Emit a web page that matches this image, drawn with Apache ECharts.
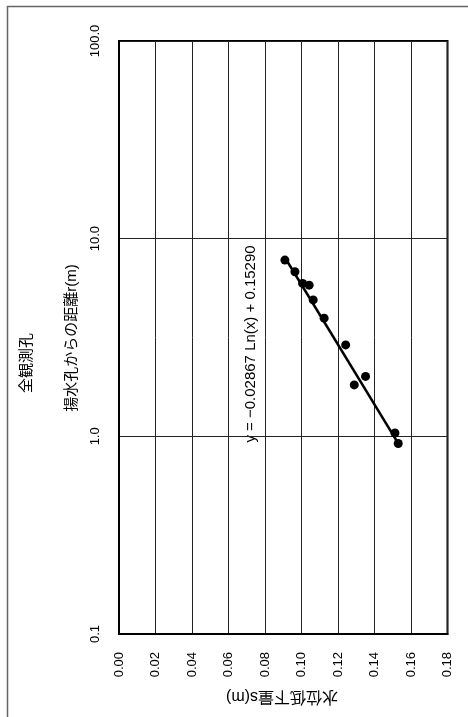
<!DOCTYPE html>
<html>
<head>
<meta charset="utf-8">
<script src="https://cdn.jsdelivr.net/npm/echarts@6/dist/echarts.min.js"></script>
<style>
html,body{margin:0;padding:0;background:#fff;}
#chart{width:468px;height:717px;}
</style>
</head>
<body>
<div id="chart"></div>
<script>
// Observed data: drawdown s (m) and distance r (m)
var drawdownS = [0.0909, 0.0964, 0.1006, 0.1042, 0.1064, 0.1124, 0.1242, 0.1289, 0.1351, 0.1512, 0.1530];
var distanceR = [7.79, 6.80, 5.94, 5.82, 4.90, 3.96, 2.90, 1.82, 2.01, 1.04, 0.92];
// Trend line endpoints
var trendS = [0.0915, 0.1524];
var trendR = [7.87, 0.94];
// Axis tick labels
var sTicks = ['0.00','0.02','0.04','0.06','0.08','0.10','0.12','0.14','0.16','0.18'];
var rTicks = ['0.1','1.0','10.0','100.0'];
var titleText = '全観測孔';
var rAxisTitle = '揚水孔からの距離r(m)';
var sAxisTitle = '水位低下量s(m)';
var equationText = 'y = −0.02867 Ln(x) + 0.15290';

var FONT = "'Liberation Sans', Arial, 'Noto Sans CJK JP', sans-serif";

var points = drawdownS.map(function (s, i) { return [s, distanceR[i]]; });
var trend = trendS.map(function (s, i) { return [s, trendR[i]]; });

var chart = echarts.init(document.getElementById('chart'), null, {renderer: 'canvas'});
chart.setOption({
  animation: false,
  backgroundColor: '#fff',
  grid: {left: 119, right: 20.5, top: 41, bottom: 83, containLabel: false,
    show: true, borderColor: '#000', borderWidth: 2, backgroundColor: 'transparent'},
  xAxis: {
    type: 'value', min: 0, max: 0.18, interval: 0.02,
    axisLine: {show: true, onZero: false, lineStyle: {color: '#000', width: 2}},
    axisTick: {show: false},
    splitLine: {show: true, lineStyle: {color: '#222', width: 1}},
    axisLabel: {
      rotate: 90, margin: 18, color: '#000', fontSize: 13, fontFamily: FONT,
      formatter: function (v) {
        var idx = Math.round(v / 0.02);
        return sTicks[idx] !== undefined ? sTicks[idx] : '';
      }
    }
  },
  yAxis: {
    type: 'log', logBase: 10, min: 0.1, max: 100,
    axisLine: {show: true, lineStyle: {color: '#000', width: 2}},
    axisTick: {show: false},
    splitLine: {show: true, lineStyle: {color: '#222', width: 1}},
    axisLabel: {
      rotate: 90, margin: 17, color: '#000', fontSize: 13, fontFamily: FONT,
      formatter: function (v) {
        var idx = Math.round(Math.log10(v)) + 1;
        return rTicks[idx] !== undefined ? rTicks[idx] : '';
      }
    }
  },
  series: [
    {
      type: 'line', data: trend, showSymbol: false, symbol: 'none',
      lineStyle: {color: '#000', width: 2.5}, z: 2
    },
    {
      type: 'scatter', data: points, symbol: 'circle', symbolSize: 9,
      itemStyle: {color: '#000', opacity: 1}, z: 3
    }
  ],
  graphic: [
    {
      type: 'rect', left: 5, top: 4, silent: true,
      shape: {x: 0, y: 0, width: 470, height: 720},
      style: {fill: 'none', stroke: '#666', lineWidth: 1.5}, z: -1
    },
    {
      type: 'text', x: 27, y: 363, rotation: Math.PI / 2,
      style: {text: titleText, fontSize: 15, fontFamily: FONT, fill: '#000',
        align: 'center', verticalAlign: 'middle', textAlign: 'center', textVerticalAlign: 'middle'}
    },
    {
      type: 'text', x: 72, y: 338, rotation: Math.PI / 2,
      style: {text: rAxisTitle, fontSize: 15, fontFamily: FONT, fill: '#000',
        align: 'center', verticalAlign: 'middle', textAlign: 'center', textVerticalAlign: 'middle'}
    },
    {
      type: 'text', x: 251, y: 344, rotation: Math.PI / 2,
      style: {text: equationText, fontSize: 15, fontFamily: FONT, fill: '#000',
        align: 'center', verticalAlign: 'middle', textAlign: 'center', textVerticalAlign: 'middle'}
    },
    {
      type: 'text', x: 282, y: 696, rotation: Math.PI,
      style: {text: sAxisTitle, fontSize: 16, fontFamily: FONT, fill: '#000',
        align: 'center', verticalAlign: 'middle', textAlign: 'center', textVerticalAlign: 'middle'}
    }
  ]
});
</script>
</body>
</html>
